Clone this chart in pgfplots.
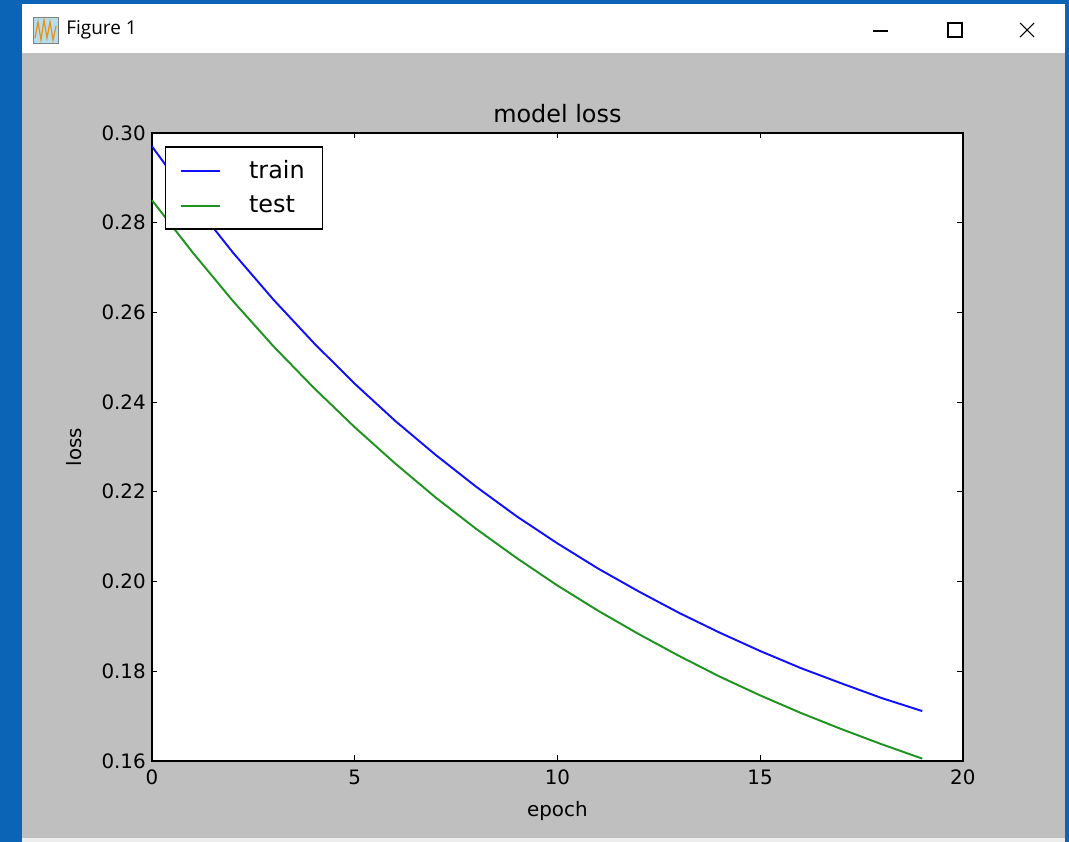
\documentclass[border=0pt]{standalone}
\usepackage{fontspec}
\setmainfont{DejaVu Sans}
\newfontfamily\uifont{Open Sans}
\usepackage{pgfplots}
\pgfplotsset{compat=1.18}
\definecolor{winblue}{HTML}{0B64B6}
\definecolor{figgray}{HTML}{BFBFBF}
\definecolor{mplblue}{HTML}{1010FF}
\definecolor{mplgreen}{HTML}{1F931F}
\definecolor{iconblue}{HTML}{B5DDEA}
\definecolor{iconorange}{HTML}{E8901A}

\begin{document}
\begin{tikzpicture}
% window frame, in screen pixels (1px = 0.02cm)
\begin{scope}[x=0.02cm, y=-0.02cm]
\fill[winblue] (0,0) rectangle (1069,842);
\fill[white] (22,4) rectangle (1065,53);
\fill[figgray] (22,53) rectangle (1065,838);
\fill[black!7] (22,838) rectangle (1065,842);
% icon
\fill[iconblue] (33,17) rectangle (58,43);
\draw[gray, line width=0.5pt] (33,17) rectangle (58,43);
\draw[iconorange, line width=0.7pt] (35,38) -- (38,22) -- (41,40) -- (44,20) -- (47,38) -- (50,22) -- (53,40) -- (56,26);
\node[anchor=west, inner sep=0pt, font=\uifont\fontsize{10.8}{12}\selectfont] at (66,30) {Figure 1};
% window controls
\draw[black, line width=0.6pt] (873,31) -- (888,31);
\draw[black, line width=0.6pt] (948,23) rectangle (962,37);
\draw[black, line width=0.6pt] (1020,23) -- (1034,37) (1020,37) -- (1034,23);
\end{scope}

\begin{axis}[
    at={(3.04cm,-15.22cm)}, anchor=south west,
    scale only axis,
    width=16.22cm, height=12.56cm,
    xmin=0, xmax=20, ymin=0.16, ymax=0.30,
    xtick={0,5,10,15,20},
    ytick={0.16,0.18,0.20,0.22,0.24,0.26,0.28,0.30},
    yticklabel style={/pgf/number format/fixed, /pgf/number format/fixed zerofill, /pgf/number format/precision=2},
    xticklabel style={yshift=-0.06cm},
    /pgf/number format/assume math mode=true,
    ticklabel style={font=\fontsize{11.3}{13.5}\selectfont},
    label style={font=\fontsize{11.3}{13.5}\selectfont},
    xlabel style={yshift=-0.08cm},
    ylabel style={yshift=0.16cm},
    title style={font=\fontsize{13.6}{16}\selectfont, yshift=-0.14cm},
    title={model loss},
    xlabel={epoch},
    ylabel={loss},
    axis background/.style={fill=white},
    axis line style={line width=0.8pt},
    tick style={black, line width=0.6pt},
    major tick length=0.11cm,
    tick align=inside,
    legend cell align=left,
    legend image code/.code={\draw[#1] (0cm,0cm) -- (0.78cm,0cm);},
    legend style={at={(0.016,0.979)}, anchor=north west, draw=black, fill=white,
        line width=0.8pt, inner xsep=0.28cm, inner ysep=0.2cm, row sep=0.16cm,
        font=\fontsize{13.6}{16}\selectfont,
        /tikz/every odd column/.append style={column sep=0.5cm}},
]
\addplot[mplblue, line width=1.1pt] coordinates {
    (0,0.2970) (1,0.2847) (2,0.2733) (3,0.2628) (4,0.2531)
    (5,0.2441) (6,0.2358) (7,0.2282) (8,0.2211) (9,0.2145)
    (10,0.2085) (11,0.2029) (12,0.1978) (13,0.1930) (14,0.1886)
    (15,0.1845) (16,0.1807) (17,0.1773) (18,0.1740) (19,0.1711)
};
\addplot[mplgreen, line width=1.1pt] coordinates {
    (0,0.2850) (1,0.2734) (2,0.2625) (3,0.2524) (4,0.2431)
    (5,0.2344) (6,0.2263) (7,0.2187) (8,0.2117) (9,0.2052)
    (10,0.1991) (11,0.1935) (12,0.1883) (13,0.1834) (14,0.1788)
    (15,0.1746) (16,0.1707) (17,0.1671) (18,0.1637) (19,0.1605)
};
\legend{train, test}
\end{axis}
\end{tikzpicture}
\end{document}
